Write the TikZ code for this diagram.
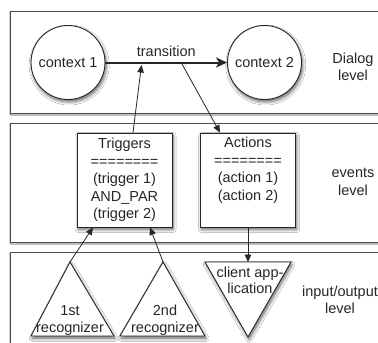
\documentclass[tikz,border=0pt]{standalone}
\usepackage{fontspec}
\setmainfont{Liberation Sans}
\usetikzlibrary{arrows.meta,shadows.blur}

\begin{document}
\begin{tikzpicture}[x=1pt,y=-1pt,
  font=\fontsize{14.5}{17.5}\selectfont,
  every node/.style={text=black!85},
  softshadow/.style={blur shadow={shadow xshift=1.2pt, shadow yshift=-2.5pt,
      shadow blur radius=3pt, shadow blur steps=8, shadow opacity=60}},
  layer/.style={draw=black!70, line width=0.9pt, fill=white,
      blur shadow={shadow xshift=0.6pt, shadow yshift=-1.2pt,
      shadow blur radius=1.2pt, shadow blur steps=4, shadow opacity=40}},
  ink/.style={draw=black!85, line width=0.9pt, fill=white},
  ctx/.style={circle, ink, softshadow, minimum size=74pt, inner sep=0pt},
  evbox/.style={rectangle, ink, softshadow, minimum width=95pt,
      minimum height=94pt, inner sep=0pt, align=center},
  tri/.style={ink, line join=miter, softshadow},
  label/.style={align=center, inner sep=0pt},
  arr/.style={draw=black!85, line width=0.8pt,
      -{Triangle[length=7.5pt,width=6.5pt]}},
  trans/.style={draw=black!85, line width=2pt,
      -{Stealth[length=11pt,width=10pt,inset=3pt]}}
]
\useasboundingbox (0,0) rectangle (378,343);
\clip (0,0) rectangle (378,343);
\fill[white] (0,0) rectangle (378,343);

% the three levels
\path[layer] (10,11) rectangle (400,113);
\path[layer] (10,123) rectangle (400,242);
\path[layer] (10,252) rectangle (400,370);

\node[label] (dialog) at (353,67) {Dialog\\level};
\node[label] (events) at (353,182) {events\\level};
\node[label] (io) at (340,300) {input/output\\level};

% dialog level: contexts and the transition between them
\node[ctx] (c1) at (68,62.5) {context 1};
\node[ctx] (c2) at (264.5,62.5) {context 2};
\draw[trans] (c1) -- node[above=5pt, inner sep=0pt] (tlabel) {transition} (c2);
\coordinate (tin) at (141.5,65);
\coordinate (tout) at (182,64);

% events level
\node[evbox] (trig) at (124.5,180)
  {Triggers\\========\\(trigger 1)\\AND\_PAR\\(trigger 2)};
\node[evbox] (act) at (248,180)
  {Actions\\========\\(action 1)\\(action 2)\\\strut};

% input/output level
\coordinate (r1top) at (70,262);
\coordinate (r2top) at (163,262);
\coordinate (cltop) at (248,262);
\path[tri] (r1top) -- (114,336) -- (31,336) -- cycle;
\path[tri] (r2top) -- (205,336) -- (120,336) -- cycle;
\path[tri] (205,262) -- (291,262) -- (248,337) -- cycle;
\node[label] (r1) at (70,320.5) {1st\\recognizer};
\node[label, font=\fontsize{14.5}{17}\selectfont] (r2) at (165,320.5) {2nd\\recognizer};
\node[label, font=\fontsize{14.5}{16}\selectfont] (client) at (250,280) {client app-\\lication};

% connectors
\draw[arr] ([xshift=8.5pt]trig.north) -- (tin);
\draw[arr] (tout) -- ([xshift=-28pt]act.north);
\draw[arr] (act.south) -- (cltop);
\draw[arr] (r1top) -- ([xshift=-31.5pt]trig.south);
\draw[arr] (r2top) -- ([xshift=25.5pt]trig.south);
\end{tikzpicture}
\end{document}
